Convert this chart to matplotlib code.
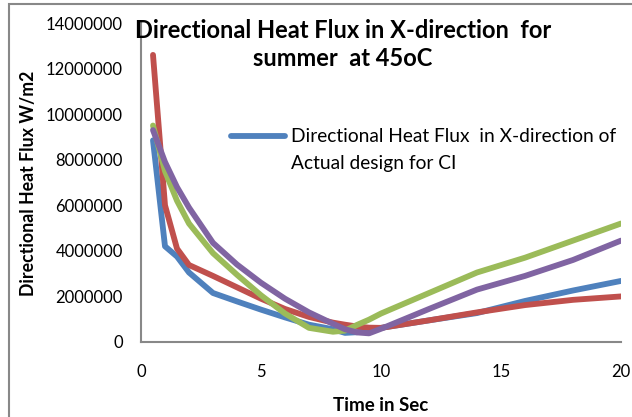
import matplotlib.pyplot as plt
from matplotlib.patches import Rectangle

# time steps (s) and heat flux series (W/m2)
time_sec = [0.5, 1, 1.5, 2, 3, 4, 5, 6, 7, 8, 8.5, 9, 9.5, 10, 12, 14, 16, 18, 20]

flux_blue = [8850000, 4200000, 3750000, 3050000, 2150000, 1780000, 1420000, 1080000,
             760000, 560000, 400000, 430000, 520000, 620000, 950000, 1270000,
             1800000, 2260000, 2680000]
flux_red = [12600000, 6000000, 4100000, 3380000, 2900000, 2400000, 1900000, 1450000,
            1100000, 850000, 760000, 680000, 630000, 620000, 950000, 1300000,
            1620000, 1850000, 2000000]
flux_green = [9500000, 7500000, 6200000, 5200000, 3900000, 2950000, 2050000, 1250000,
              620000, 450000, 500000, 750000, 980000, 1250000, 2150000, 3050000,
              3700000, 4450000, 5200000]
flux_purple = [9300000, 7900000, 6800000, 5900000, 4350000, 3400000, 2600000, 1900000,
               1300000, 800000, 560000, 420000, 380000, 580000, 1450000, 2300000,
               2900000, 3600000, 4450000]

legend_line1 = "Directional Heat Flux  in X-direction of"
legend_line2 = "Actual design for CI"
title_text = "Directional Heat Flux in X-direction  for\nsummer  at 45oC"

plt.rcParams['font.family'] = ['Lato', 'DejaVu Sans']

W, H = 632, 417
fig = plt.figure(figsize=(W / 100, H / 100), dpi=100)
ax = fig.add_axes([141 / W, (H - 342) / H, 480 / W, 319 / H])

line_kw = dict(lw=4.2, solid_capstyle='round', solid_joinstyle='round')
ax.plot(time_sec, flux_blue, color='#4F81BD', label=legend_line1, **line_kw)
ax.plot(time_sec, flux_red, color='#C0504D', label='_nolegend_', **line_kw)
ax.plot(time_sec, flux_green, color='#9BBB59', label='_nolegend_', **line_kw)
ax.plot(time_sec, flux_purple, color='#8064A2', label='_nolegend_', **line_kw)

ax.set_xlim(0, 20)
ax.set_ylim(0, 14000000)
ax.set_xticks([0, 5, 10, 15, 20])
ax.set_yticks(range(0, 14000001, 2000000))
ax.set_yticklabels([str(v) for v in range(0, 14000001, 2000000)])
ax.tick_params(length=0, labelsize=12, colors='black')
ax.tick_params(axis='y', pad=13)
ax.tick_params(axis='x', pad=16)

for side in ['top', 'right']:
    ax.spines[side].set_visible(False)
for side in ['left', 'bottom']:
    ax.spines[side].set_color('#888888')
    ax.spines[side].set_linewidth(1.5)

ax.set_xlabel("Time in Sec", fontsize=13.5, fontweight='bold', labelpad=12)
ax.set_ylabel("Directional Heat Flux W/m2", fontsize=12.8, fontweight='bold')
ax.yaxis.set_label_coords(-(141 - 37) / 480, (342 - 183) / 319)

fig.text(343 / W, 1 - 19 / H, title_text, ha='center', va='top',
         fontsize=17, fontweight='bold', linespacing=1.25)

leg = ax.legend(loc='upper left', bbox_to_anchor=(216 / W, 1 - 113 / H),
                bbox_transform=fig.transFigure, frameon=False, fontsize=13.8,
                handlelength=2.8, handletextpad=0.3, borderpad=0.3)

# second line of the legend entry, set under the first one
fig.canvas.draw()
bb = leg.get_texts()[0].get_window_extent()
fig.text(bb.x0 / W, (bb.y0 - 27) / H, legend_line2, fontsize=13.8,
         ha='left', va='bottom')

# outer chart frame
fig.patches.append(Rectangle((8.5 / W, -0.1), 2, 1.1 - 4.5 / H,
                             transform=fig.transFigure, fill=False,
                             edgecolor='#888888', lw=1.5))

fig.savefig("out.png", dpi=100)
